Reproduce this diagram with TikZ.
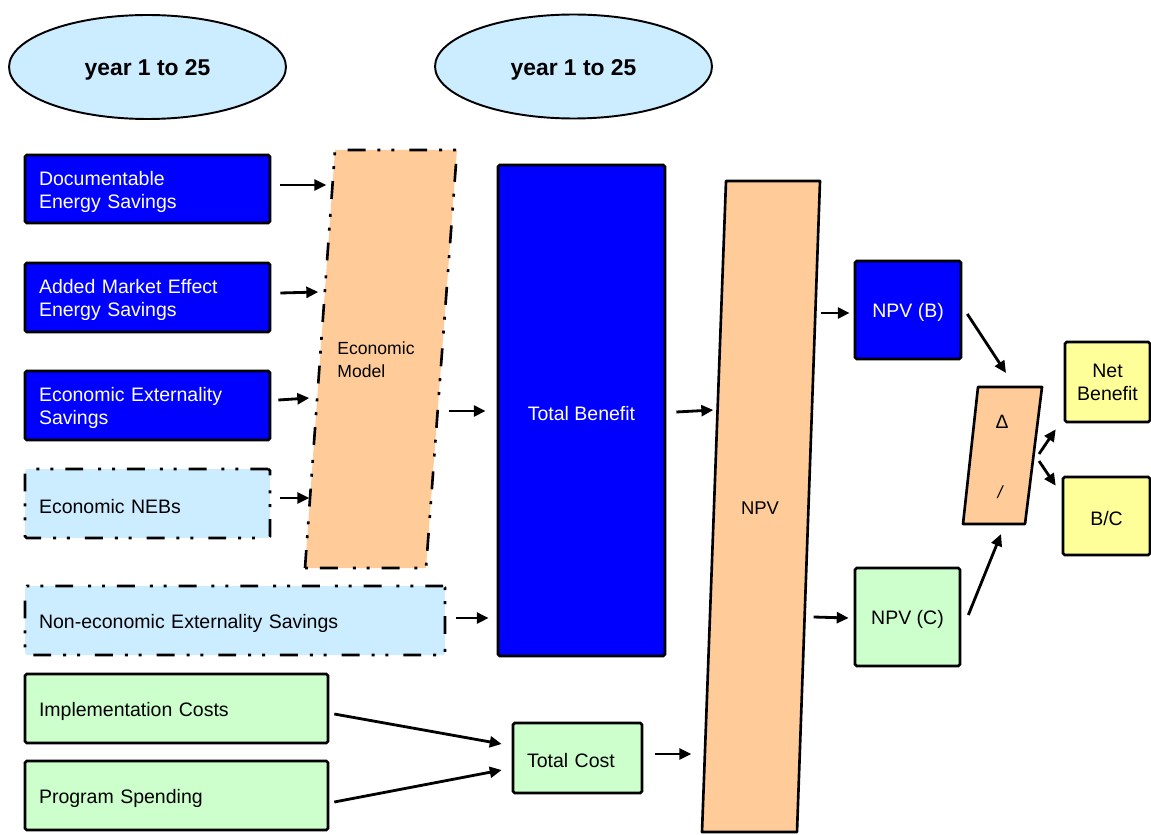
\documentclass[tikz,border=0pt]{standalone}
\usepackage{fontspec}
\setmainfont{Liberation Sans}
\usetikzlibrary{shapes.geometric,arrows.meta,calc}
\definecolor{lblue}{HTML}{CCECFF}
\definecolor{dblue}{HTML}{0000FF}
\definecolor{lgreen}{HTML}{CCFFCC}
\definecolor{lorange}{HTML}{FFCC99}
\definecolor{lyellow}{HTML}{FFFF99}
\tikzset{
  px/.style={x=0.02cm,y=-0.02cm},
  lowertext/.style={execute at begin node={\rule{0pt}{#1}}},
  box/.style={draw=black,line width=1.5pt,rounded corners=1pt,inner sep=0pt,
    font=\fontsize{11.1}{13}\selectfont,lowertext=11.2pt},
  leftbox/.style={box,align=left,text width=#1},
  bluebox/.style={fill=dblue,text=white},
  greenbox/.style={fill=lgreen,text=black},
  ltbluebox/.style={fill=lblue,text=black,dashdotdot},
  yellowbox/.style={fill=lyellow,text=black},
  dashdotdot/.style={line cap=butt,dash pattern=on 10.2pt off 6.8pt on 1.7pt off 6.2pt on 1.7pt off 8.5pt},
  yearell/.style={ellipse,draw=black,line width=1.1pt,fill=lblue,
    minimum width=5.54cm,minimum height=2.08cm,inner sep=0pt,
    font=\fontsize{13}{15}\selectfont\bfseries,lowertext=12.8pt},
  para/.style={draw=black,line width=1.5pt,fill=lorange,line join=round},
  arr/.style={line width=1.6pt,-{Triangle[length=6.8pt,width=6.2pt]}},
  lbl/.style={inner sep=0pt,font=\fontsize{10}{13}\selectfont},
}
\begin{document}
\begin{tikzpicture}[px]
\useasboundingbox (0,0) rectangle (1151,834);

% ellipses
\node[yearell] (y1) at (147.5,67) {year 1 to 25};
\node[yearell] (y2) at (573.5,66.5) {year 1 to 25};

% parallelograms
\path[para,dashdotdot] (305,568) -- (335,150) -- (457,150) -- (426,568) -- cycle;
\node[lbl,align=left] (em) at (376,360) {Economic\\Model};
\path[para] (702,832) -- (726,181) -- (820,181) -- (797,832) -- cycle;
\node[lbl,font=\fontsize{10.5}{13}\selectfont] (npv) at (760,508) {NPV};
\path[para] (963,524) -- (978,387) -- (1042,387) -- (1025,524) -- cycle;
\node[lbl,font=\fontsize{11}{13}\selectfont] (dl) at (1002,422) {Δ};
\node[lbl,font=\fontsize{10}{12}\selectfont] (sl) at (1000,492) {\itshape /};

% left input boxes
\node[leftbox=4.34cm,bluebox,minimum width=4.9cm,minimum height=1.36cm,inner xsep=0.28cm] (doc) at (147.5,189) {Documentable\\Energy Savings};
\node[leftbox=4.34cm,bluebox,minimum width=4.9cm,minimum height=1.38cm,inner xsep=0.28cm] (ame) at (147.5,297.5) {Added Market Effect\\Energy Savings};
\node[leftbox=4.34cm,bluebox,minimum width=4.9cm,minimum height=1.38cm,inner xsep=0.28cm] (eex) at (147.5,405.5) {Economic Externality\\Savings};
\node[leftbox=4.34cm,ltbluebox,minimum width=4.9cm,minimum height=1.38cm,inner xsep=0.28cm] (neb) at (147.5,503.5) {Economic NEBs};
\node[leftbox=7.84cm,ltbluebox,minimum width=8.4cm,minimum height=1.38cm,inner xsep=0.28cm] (nee) at (235,620.5) {Non-economic Externality Savings};
\node[leftbox=5.5cm,greenbox,minimum width=6.06cm,minimum height=1.38cm,inner xsep=0.28cm] (imp) at (176.5,708.5) {Implementation Costs};
\node[leftbox=5.5cm,greenbox,minimum width=6.06cm,minimum height=1.38cm,inner xsep=0.28cm] (prg) at (176.5,795.5) {Program Spending};

% middle
\node[box,bluebox,minimum width=3.34cm,minimum height=9.82cm] (tb) at (581.5,410.5) {Total Benefit};
\node[leftbox=2.02cm,greenbox,minimum width=2.58cm,minimum height=1.4cm,inner xsep=0.28cm] (tc) at (577.5,758) {Total Cost};

% right
\node[box,bluebox,minimum width=2.12cm,minimum height=1.96cm] (npvb) at (908,310) {NPV (B)};
\node[box,greenbox,minimum width=2.1cm,minimum height=1.96cm] (npvc) at (907.5,617) {NPV (C)};
\node[box,yellowbox,align=center,minimum width=1.7cm,minimum height=1.6cm] (nb) at (1107.5,382) {Net\\Benefit};
\node[box,yellowbox,minimum width=1.74cm,minimum height=1.56cm] (bc) at (1106.5,516) {B/C};

% connectors
\draw[arr] ([shift={(9,-4)}]doc.east) -- ++(46,0);
\draw[arr] ([shift={(9,-4.5)}]ame.east) -- ++(38,-1);
\draw[arr] ([shift={(7,-5.5)}]eex.east) -- ++(31,-2);
\draw[arr] ([shift={(9,-5.5)}]neb.east) -- ++(29,0);
\draw[arr] ([shift={(-48,0.5)}]tb.west) -- ([shift={(-11,0.5)}]tb.west);
\draw[arr] ([shift={(10,-2.5)}]nee.east) -- ([shift={(-8,-2.5)}]tb.west |- nee.east);
\draw[arr] ([shift={(10,1.5)}]tb.east) -- ++(37,-2);
\draw[arr] ([shift={(5,5.5)}]imp.east) -- ([shift={(-10,-14)}]tc.west);
\draw[arr] ([shift={(5,6.5)}]prg.east) -- ([shift={(-10,12)}]tc.west);
\draw[arr] ([shift={(12,-4)}]tc.east) -- ++(36,0);
\draw[arr] ([shift={(-33,3)}]npvb.west) -- ([shift={(-4,3)}]npvb.west);
\draw[arr] ([shift={(-40,0)}]npvc.west) -- ([shift={(-5,1)}]npvc.west);
\draw[arr] ([shift={(5,4)}]npvb.east) -- (1006,373);
\draw[arr] ([shift={(7,-2)}]npvc.east) -- (1001,534);
\draw[arr] (1039,454) -- ([shift={(-8,6)}]nb.south west);
\draw[arr] (1039,461) -- ([shift={(-6,10)}]bc.north west);
\end{tikzpicture}
\end{document}
